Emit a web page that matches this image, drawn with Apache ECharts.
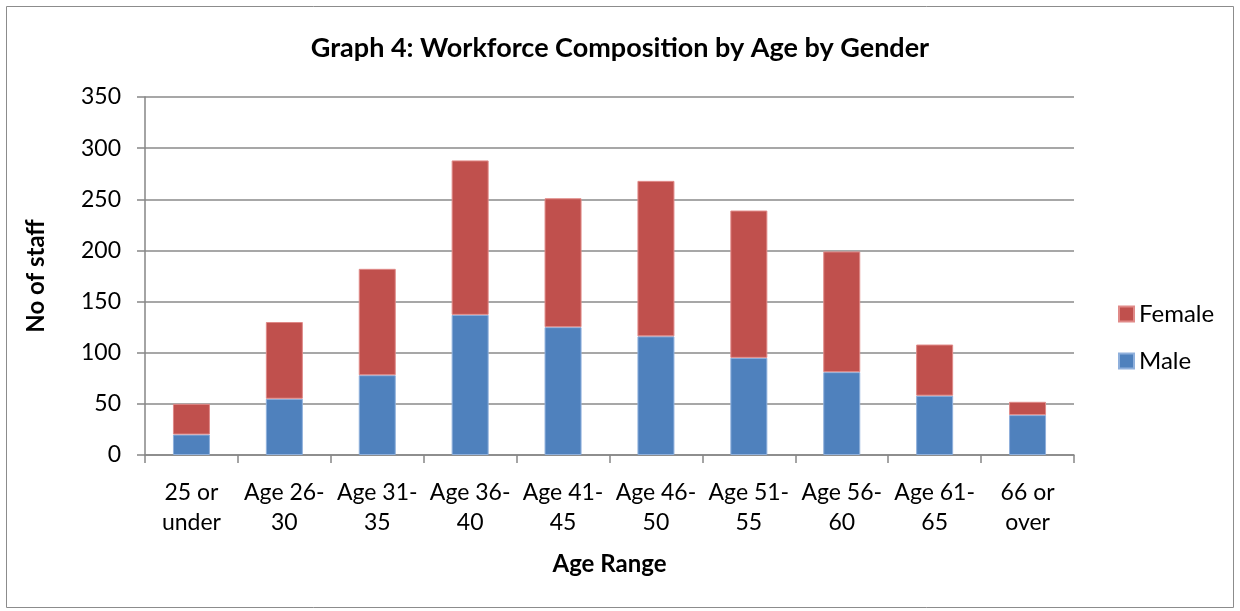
<!DOCTYPE html>
<html>
<head>
<meta charset="utf-8">
<script src="https://cdn.jsdelivr.net/npm/echarts@6/dist/echarts.min.js"></script>
<style>
  html, body { margin: 0; padding: 0; background: #fff; }
  #chart { width: 1240px; height: 611px; }
</style>
</head>
<body>
<div id="chart"></div>
<script>
// data
const categories = ['25 or\nunder', 'Age 26-\n30', 'Age 31-\n35', 'Age 36-\n40', 'Age 41-\n45',
  'Age 46-\n50', 'Age 51-\n55', 'Age 56-\n60', 'Age 61-\n65', '66 or\nover'];
const male = [20, 55, 78, 137, 125, 116, 95, 81, 58, 39];
const female = [30, 75, 104, 151, 126, 152, 144, 118, 50, 13];
const yTicks = [0, 50, 100, 150, 200, 250, 300, 350];

const font = 'Lato, "Open Sans", sans-serif';
const chart = echarts.init(document.getElementById('chart'));

chart.setOption({
  animation: false,
  textStyle: { fontFamily: font, color: '#000' },
  title: {
    text: 'Graph 4: Workforce Composition by Age by Gender',
    left: 'center',
    top: 30,
    textStyle: { fontFamily: font, fontSize: 27, fontWeight: 'bold', color: '#000' }
  },
  graphic: [{
    type: 'rect',
    shape: { x: 6.5, y: 6.5, width: 1227, height: 601 },
    style: { fill: 'none', stroke: '#8c8c8c', lineWidth: 1 }
  }],
  legend: {
    orient: 'vertical',
    left: 1113,
    top: 297,
    itemGap: 23,
    itemWidth: 15,
    itemHeight: 15,
    icon: 'rect',
    data: ['Female', 'Male'],
    textStyle: { fontFamily: font, fontSize: 24, color: '#000' }
  },
  grid: { left: 145, right: 166, top: 97, bottom: 156 },
  xAxis: {
    type: 'category',
    data: categories,
    name: 'Age Range',
    nameLocation: 'middle',
    nameGap: 97,
    nameTextStyle: { fontFamily: font, fontSize: 24, fontWeight: 'bold', color: '#000' },
    axisLine: { lineStyle: { color: '#868686', width: 1.5 } },
    axisTick: { show: true, length: 8, lineStyle: { color: '#868686', width: 1.5 } },
    axisLabel: { fontFamily: font, fontSize: 23, color: '#000', lineHeight: 30, margin: 23, interval: 0 }
  },
  yAxis: {
    type: 'value',
    min: yTicks[0],
    max: yTicks[yTicks.length - 1],
    interval: 50,
    name: 'No of staff',
    nameLocation: 'middle',
    nameGap: 97,
    nameTextStyle: { fontFamily: font, fontSize: 24, fontWeight: 'bold', color: '#000' },
    axisLine: { show: true, lineStyle: { color: '#868686', width: 1.5 } },
    axisTick: { show: true, length: 8, lineStyle: { color: '#868686', width: 1.5 } },
    axisLabel: { fontFamily: font, fontSize: 23, color: '#000', margin: 24 },
    splitLine: { lineStyle: { color: '#8a8a8a', width: 1.5 } }
  },
  series: [
    {
      name: 'Male',
      type: 'bar',
      stack: 'total',
      barWidth: 37,
      data: male,
      itemStyle: { color: '#4F81BD', borderColor: '#8fb0dc', borderWidth: 1 }
    },
    {
      name: 'Female',
      type: 'bar',
      stack: 'total',
      barWidth: 37,
      data: female,
      itemStyle: { color: '#C0504D', borderColor: '#e08a88', borderWidth: 1 }
    }
  ]
});
</script>
</body>
</html>
